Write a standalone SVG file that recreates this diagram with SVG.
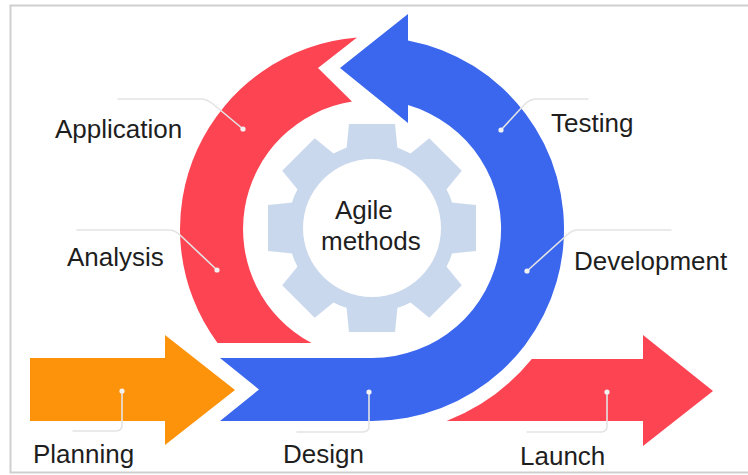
<svg xmlns="http://www.w3.org/2000/svg" width="748" height="475" viewBox="0 0 748 475">
  <defs>
    <style>
      .lbl { font-family: "Liberation Sans", Arial, sans-serif; font-size: 26px; fill: #1e1e1e; }
      .lead { fill: none; stroke: #e4e4e4; stroke-width: 1.6; stroke-linecap: round; stroke-linejoin: round; }
      .dot { fill: #f2f2f2; }
      .red { fill: #fc4452; }
      .blue { fill: #3b66ee; }
      .orange { fill: #fd930b; }
      .gear { fill: #c9d8ec; }
    </style>
    <path id="tooth" d="M-23,-104 L23,-104 L26,-74 L-26,-74 Z"/>
  </defs>

  <rect x="0" y="0" width="748" height="475" fill="#ffffff"/>
  <rect x="10.5" y="5.5" width="745" height="467" fill="none" stroke="#cfcfcf" stroke-width="2"/>

  <g id="gear-agile">
    <g class="gear" transform="translate(372,228)">
      <circle r="84"/>
      <use href="#tooth"/>
      <use href="#tooth" transform="rotate(45)"/>
      <use href="#tooth" transform="rotate(90)"/>
      <use href="#tooth" transform="rotate(135)"/>
      <use href="#tooth" transform="rotate(180)"/>
      <use href="#tooth" transform="rotate(225)"/>
      <use href="#tooth" transform="rotate(270)"/>
      <use href="#tooth" transform="rotate(315)"/>
    </g>
    <circle cx="372" cy="228" r="69" fill="#ffffff"/>
    <text class="lbl" x="335" y="219">Agile</text>
    <text class="lbl" x="321" y="250">methods</text>
  </g>

  <g id="arrows">
    <path id="arrow-analysis-application" class="red" d="M311.6,343 L217.5,343 A192,192 0 0 1 357,37.6 L318,68 L352,101.6 A129,129 0 0 0 311.6,343 Z"/>
    <path id="arrow-design-development-testing" class="blue" d="M220,358 L372,358 A129,129 0 0 0 408,105.1 L408,123 L340,68 L408,14 L408,40.4 A192,192 0 0 1 372,421 L220,421 L259,389.5 Z"/>
    <path id="arrow-planning" class="orange" d="M30,358 L165,358 L165,335 L235,390 L165,445 L165,421 L30,421 Z"/>
    <path id="arrow-launch" class="red" d="M446.6,421 A206,206 0 0 0 531.8,359 L643,359 L643,335 L713,391 L643,446 L643,421 Z"/>
  </g>

  <g id="connectors">
    <path class="lead" d="M118,99 H200 Q207,99 213,104 L243,129"/>
    <path class="lead" d="M77,230 H168 Q175,230 180,235 L217,270"/>
    <path class="lead" d="M588,99 H537 Q530,99 525,104 L501,130"/>
    <path class="lead" d="M671,230 H578 Q572,230 567,235 L527,271"/>
    <path class="lead" d="M122,391 V425 Q122,431 116,431 H73"/>
    <path class="lead" d="M369,392 V426 Q369,432 363,432 H297"/>
    <path class="lead" d="M607,392 V426 Q607,432 601,432 H527"/>
    <circle class="dot" cx="243" cy="129" r="2.6"/>
    <circle class="dot" cx="217" cy="270" r="2.6"/>
    <circle class="dot" cx="501" cy="130" r="2.6"/>
    <circle class="dot" cx="527" cy="271" r="2.6"/>
    <circle class="dot" cx="122" cy="391" r="2.6"/>
    <circle class="dot" cx="369" cy="392" r="2.6"/>
    <circle class="dot" cx="607" cy="392" r="2.6"/>
  </g>

  <g id="node-application"><text class="lbl" x="55" y="138">Application</text></g>
  <g id="node-analysis"><text class="lbl" x="67" y="266">Analysis</text></g>
  <g id="node-testing"><text class="lbl" x="551" y="132">Testing</text></g>
  <g id="node-development"><text class="lbl" x="574" y="270">Development</text></g>
  <g id="node-planning"><text class="lbl" x="33" y="463">Planning</text></g>
  <g id="node-design"><text class="lbl" x="283" y="463">Design</text></g>
  <g id="node-launch"><text class="lbl" x="520" y="465">Launch</text></g>
</svg>
